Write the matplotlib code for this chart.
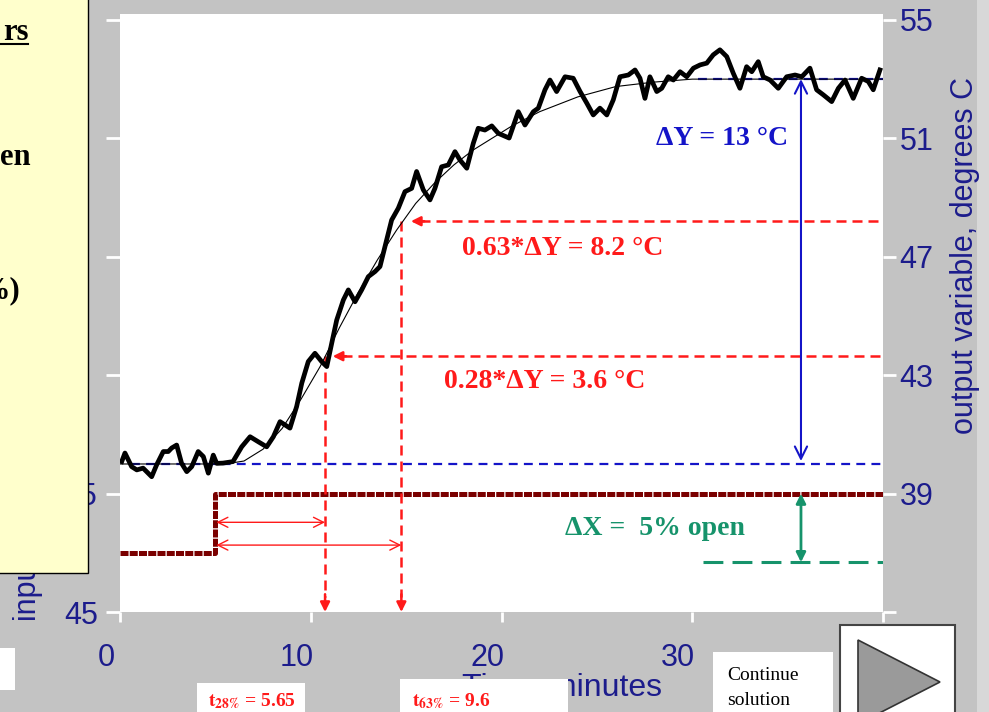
import matplotlib.pyplot as plt
import matplotlib.transforms as mtransforms
from matplotlib.patches import Rectangle, Polygon
from matplotlib.lines import Line2D

plt.rcParams['font.family'] = ['Liberation Sans', 'DejaVu Sans']
plt.rcParams['mathtext.fontset'] = 'stix'

# measured output (noisy), degrees C
t_out = [0.09, 0.26, 0.61, 0.88, 1.21, 1.66, 1.92, 2.27, 2.53, 2.71, 2.97, 3.23, 3.50, 3.76,
         4.10, 4.37, 4.63, 4.89, 5.07, 5.40, 5.92, 6.38, 6.82, 7.25, 7.69, 8.04, 8.39, 8.65,
         8.91, 9.26, 9.53, 9.87, 10.22, 10.57, 10.84, 11.10, 11.36, 11.71, 11.97, 12.32, 12.67,
         13.02, 13.37, 13.63, 13.89, 14.24, 14.59, 14.94, 15.29, 15.55, 15.90, 16.25, 16.51,
         16.86, 17.21, 17.56, 17.82, 18.18, 18.52, 18.78, 19.13, 19.49, 19.83, 20.40, 20.88,
         21.23, 21.67, 21.93, 22.28, 22.54, 22.89, 23.33, 23.76, 24.12, 24.47, 24.81, 25.16,
         25.52, 25.86, 26.21, 26.65, 27.00, 27.26, 27.52, 27.78, 28.14, 28.40, 28.74, 29.01,
         29.36, 29.71, 30.06, 30.41, 30.76, 31.10, 31.45, 31.81, 32.15, 32.50, 32.85, 33.12,
         33.46, 33.72, 34.08, 34.51, 34.95, 35.39, 35.74, 36.17, 36.52, 36.87, 37.31, 37.66,
         38.01, 38.44, 38.88, 39.23, 39.49, 39.84]
temp_out = [40.08, 40.37, 39.91, 39.80, 39.86, 39.57, 39.97, 40.42, 40.42, 40.54, 40.64, 40.02,
            39.74, 39.91, 40.42, 40.25, 39.69, 40.30, 40.02, 40.03, 40.08, 40.58, 40.92, 40.75,
            40.58, 40.92, 41.43, 41.32, 41.21, 41.94, 42.73, 43.46, 43.74, 43.46, 43.29, 44.08,
            44.86, 45.54, 45.88, 45.48, 45.88, 46.33, 46.50, 46.67, 47.34, 48.24, 48.64, 49.20,
            49.31, 49.88, 49.26, 48.92, 49.31, 50.04, 50.10, 50.55, 50.27, 49.99, 50.83, 51.34,
            51.28, 51.42, 51.17, 51.01, 51.90, 51.45, 51.90, 52.02, 52.64, 52.97, 52.58, 53.08,
            53.03, 52.58, 52.19, 51.79, 52.02, 51.79, 52.30, 53.08, 53.14, 53.31, 53.03, 52.35,
            53.08, 52.58, 52.69, 53.08, 52.97, 53.25, 53.08, 53.37, 53.48, 53.54, 53.82, 53.99,
            53.76, 53.20, 52.69, 53.42, 53.25, 53.59, 53.08, 52.97, 52.69, 53.08, 53.14, 53.08,
            53.37, 52.64, 52.47, 52.24, 52.69, 52.97, 52.35, 53.03, 52.92, 52.64, 53.31]

# smooth process response (thin line)
t_fit = [0, 5.5, 6.5, 7.5, 8.5, 9.5, 10.5, 11.5, 12.5, 13.5, 14.5, 15.5, 16.5, 17.5, 18.5,
         19.5, 20.5, 22, 24, 26, 28, 30, 32, 40]
temp_fit = [40, 40, 40.1, 40.5, 41.2, 42.2, 43.3, 44.6, 45.8, 46.9, 47.9, 48.8, 49.5, 50.1,
            50.6, 51.0, 51.4, 51.9, 52.4, 52.75, 52.9, 53.0, 53.0, 53.0]

# input step, % open
t_in = [0, 5, 5, 40]
u_in = [50, 50, 55, 55]

y_start, y_end = 40, 53
y28, y63 = 43.64, 48.2
t_step, t28, t63 = 5, 10.75, 14.75
u_ref = 49.2

navy = '#1c1c8c'
red = '#ff1a1a'
blue = '#1414c8'
green = '#16936b'
darkred = '#7a0000'
serif = ['Liberation Serif', 'DejaVu Serif']

W, H = 989, 712
fig = plt.figure(figsize=(W / 100, H / 100), dpi=100, facecolor='#c3c3c3')
px = mtransforms.Affine2D().scale(1 / W, -1 / H).translate(0, 1) + fig.transFigure

ax = fig.add_axes([120 / W, 1 - 612 / H, 763 / W, 598 / H])
ax.set_facecolor('white')
ax2 = ax.twinx()

ax.set_xlim(0, 40)
ax.set_ylim(45, 95.5)
ax2.set_ylim(35, 55.2)

for a in (ax, ax2):
    for s in a.spines.values():
        s.set_visible(False)

ax.set_xticks([0, 10, 20, 30, 40])
ax.set_yticks([45, 55, 65, 75, 85, 95])
ax.set_yticklabels(['45', '55', '', '', '', ''])
ax2.set_yticks([35, 39, 43, 47, 51, 55])
ax2.set_yticklabels(['', '39', '43', '47', '51', '55'])
ax.tick_params(axis='x', colors='white', labelcolor=navy, labelsize=22, length=7, width=2, pad=15)
ax.tick_params(axis='y', colors='white', labelcolor=navy, labelsize=22, length=10, width=2, pad=6)
ax2.tick_params(axis='y', colors='white', labelcolor=navy, labelsize=22, length=9, width=2, pad=3)
shift = mtransforms.ScaledTranslation(-10 / 72, 0, fig.dpi_scale_trans)
for lbl in ax.xaxis.get_majorticklabels():
    lbl.set_transform(lbl.get_transform() + shift)

# input
ax.plot(t_in, u_in, color=darkred, lw=3.6, dashes=(1.6, 0.25), solid_capstyle='butt', zorder=3)
ax.plot([30.55, 40], [u_ref, u_ref], color=green, lw=2.2, dashes=(6.5, 3), zorder=3)
ax.annotate('', xy=(35.7, 55), xytext=(35.7, u_ref),
            arrowprops=dict(arrowstyle='<|-|>', color=green, lw=2, mutation_scale=14,
                            shrinkA=0, shrinkB=0))

# reference lines
ax2.plot([0.6, 40], [y_start, y_start], color=blue, lw=1.6, dashes=(4, 2.8), zorder=2)
ax2.plot([30.3, 40], [y_end, y_end], color=blue, lw=1.6, dashes=(4, 2.8), zorder=2)
ax2.annotate('', xy=(35.7, y_end), xytext=(35.7, y_start + 0.1),
             arrowprops=dict(arrowstyle='<->', color=blue, lw=1.5, mutation_scale=22,
                             shrinkA=0, shrinkB=0))

for tv, yv, tip in [(t28, y28, 11.15), (t63, y63, 15.25)]:
    ax2.plot([tip + 0.5, 40], [yv, yv], color=red, lw=1.8, dashes=(4, 2.4), zorder=2)
    ax2.plot([tv, tv], [yv, 35.5], color=red, lw=1.8, dashes=(4, 2.4), zorder=2)
    ax2.annotate('', xy=(tip, yv), xytext=(tip + 0.7, yv),
                 arrowprops=dict(arrowstyle='-|>', color=red, lw=1.8, mutation_scale=14,
                                 shrinkA=0, shrinkB=0))
    ax2.annotate('', xy=(tv, 35.0), xytext=(tv, 35.6),
                 arrowprops=dict(arrowstyle='-|>', color=red, lw=1.8, mutation_scale=14,
                                 shrinkA=0, shrinkB=0))

ax2.annotate('', xy=(t_step + 0.05, 38.03), xytext=(t28, 38.03),
             arrowprops=dict(arrowstyle='<->', color=red, lw=1, mutation_scale=18,
                             shrinkA=0, shrinkB=0))
ax2.annotate('', xy=(t_step + 0.05, 37.26), xytext=(t63, 37.26),
             arrowprops=dict(arrowstyle='<->', color=red, lw=1, mutation_scale=18,
                             shrinkA=0, shrinkB=0))

# output curves
ax2.plot(t_fit, temp_fit, color='black', lw=0.8, zorder=4)
ax2.plot(t_out, temp_out, color='black', lw=3.4, zorder=5)

# annotation texts
ax2.text(31.56, 50.99, 'ΔY = 13 °C', color=blue, fontsize=20, fontweight='bold',
         family=serif, ha='center', va='center')
ax2.text(23.23, 47.29, '0.63*ΔY = 8.2 °C', color=red, fontsize=20, fontweight='bold',
         family=serif, ha='center', va='center')
ax2.text(22.28, 42.78, '0.28*ΔY = 3.6 °C', color=red, fontsize=20, fontweight='bold',
         family=serif, ha='center', va='center')
ax2.text(28.05, 37.83, 'ΔX =  5% open', color=green, fontsize=20, fontweight='bold',
         family=serif, ha='center', va='center')

# axis titles
fig.text(562, 688, 'Time, minutes', transform=px, color=navy, fontsize=23,
         ha='center', va='center', zorder=1)
fig.text(965, 255, 'output variable, degrees C', transform=px, color=navy, fontsize=22,
         rotation=90, ha='center', va='center', zorder=1)
fig.text(28, 621, 'input variable, % open', transform=px, color=navy, fontsize=22,
         rotation=90, ha='center', va='bottom', zorder=1)

# slide decorations
fig.add_artist(Rectangle((977, 0), 20, H, transform=px, fc='#d8d8d8', ec='none', zorder=0.5))
fig.add_artist(Rectangle((-2, -2), 90, 575, transform=px, fc='#ffffcc', ec='black', lw=1, zorder=5))
fig.text(3, 40, 'rs', transform=px, fontsize=22, fontweight='bold', family=serif,
         ha='left', va='baseline', zorder=6)
fig.add_artist(Line2D([0, 28], [44, 44], transform=px, color='black', lw=1.5, zorder=6))
fig.text(0, 165, 'en', transform=px, fontsize=22, fontweight='bold', family=serif,
         ha='left', va='baseline', zorder=6)
fig.text(-20, 298, '%)', transform=px, fontsize=22, fontweight='bold', family=serif,
         ha='left', va='baseline', zorder=6)

fig.add_artist(Rectangle((0, 648), 15, 42, transform=px, fc='white', ec='none', zorder=5))
fig.add_artist(Rectangle((197, 683), 108, 40, transform=px, fc='white', ec='none', zorder=5))
fig.add_artist(Rectangle((400, 679), 168, 40, transform=px, fc='white', ec='none', zorder=5))
fig.text(208, 706, r'$\mathbf{t_{28\%}}$ = 5.65', transform=px, color=red, fontsize=14,
         fontweight='bold', family=serif, ha='left', va='baseline', zorder=6)
fig.text(412, 706, r'$\mathbf{t_{63\%}}$ = 9.6', transform=px, color=red, fontsize=14,
         fontweight='bold', family=serif, ha='left', va='baseline', zorder=6)

fig.add_artist(Rectangle((713, 652), 120, 70, transform=px, fc='white', ec='none', zorder=5))
fig.text(727, 680, 'Continue', transform=px, fontsize=14, family=serif,
         ha='left', va='baseline', zorder=6)
fig.text(727, 705, 'solution', transform=px, fontsize=14, family=serif,
         ha='left', va='baseline', zorder=6)

fig.add_artist(Rectangle((840, 625), 115, 100, transform=px, fc='white', ec='#444444',
                         lw=1.5, zorder=5))
fig.add_artist(Polygon([(858, 640), (940, 682), (858, 724)], closed=True, transform=px,
                       fc='#9a9a9a', ec='#333333', lw=1.2, zorder=6))

fig.savefig('out.png', dpi=100, facecolor=fig.get_facecolor())
